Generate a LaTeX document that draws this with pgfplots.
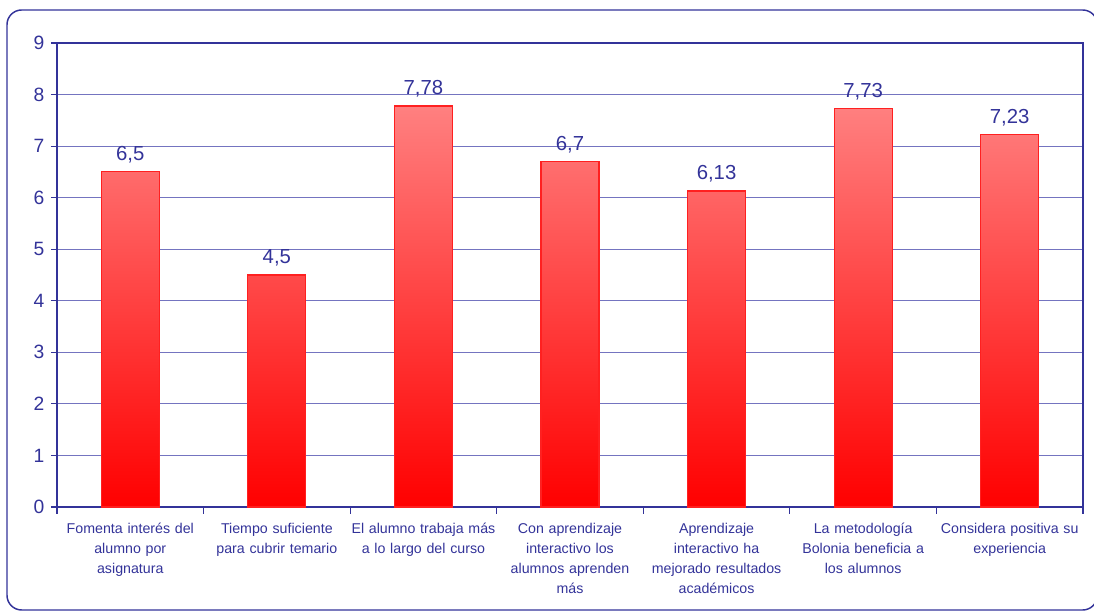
\documentclass[border=0pt]{standalone}
\usepackage{fontspec}
\setmainfont{Liberation Sans}
\usepackage{pgfplots}
\pgfplotsset{compat=1.18}
\definecolor{navy}{HTML}{333399}
\definecolor{gridc}{HTML}{7474C0}
\definecolor{barhi}{HTML}{FF8080}
\definecolor{barlo}{HTML}{FF0000}
\definecolor{baredge}{HTML}{FF2020}
\begin{document}
\begin{tikzpicture}
\useasboundingbox (0,0) rectangle (820.5bp,459bp);
\begin{scope}
\clip (0,0) rectangle (820.5bp,459bp);
\draw[navy, line width=1.1bp, rounded corners=11bp] (5.25bp,1.5bp) rectangle (823bp,451.5bp);
\end{scope}
\begin{axis}[
  at={(42.75bp,78.75bp)}, anchor=south west,
  scale only axis, width=769.5bp, height=348bp,
  xmin=-0.5, xmax=6.5, ymin=0, ymax=9,
  ytick={0,1,...,9},
  yticklabel={\fontsize{14.5}{16}\selectfont\pgfmathprintnumber{\tick}},
  xtick={0,1,...,6},
  xticklabels={
    {Fomenta interés del\\alumno por\\asignatura},
    {Tiempo suficiente\\para cubrir temario},
    {El alumno trabaja más\\a lo largo del curso},
    {Con aprendizaje\\interactivo los\\alumnos aprenden\\más},
    {Aprendizaje\\interactivo ha\\mejorado resultados\\académicos},
    {La metodología\\Bolonia beneficia a\\los alumnos},
    {Considera positiva su\\experiencia}},
  x tick label style={text width=125bp, align=center, font=\fontsize{10.7}{15}\selectfont, text=navy, anchor=north, inner sep=0pt, yshift=-7.5bp},
  y tick label style={text=navy, xshift=-1.5bp},
  /pgf/number format/assume math mode=true,
  xtick pos=bottom, ytick pos=left,
  x tick style={draw=none},
  extra x ticks={-0.5,0.5,1.5,2.5,3.5,4.5,5.5,6.5},
  extra x tick labels={},
  extra x tick style={x tick style={draw=navy, line width=0.9bp}, major tick length=5bp, tick align=outside, xtick pos=bottom},
  y tick style={draw=navy, line width=0.9bp},
  tick align=outside,
  major tick length=4.5bp,
  ymajorgrids,
  major grid style={gridc, line width=0.75bp},
  axis line style={navy, line width=1.2bp},
  ybar, bar width=43.5bp,
  nodes near coords,
  point meta=explicit symbolic,
  every node near coord/.append style={font=\fontsize{15.3}{18}\selectfont, text=navy, inner sep=0pt, yshift=6bp},
]
\addplot[ybar, draw=baredge, line width=0.9bp, top color=barhi, bottom color=barlo]
coordinates {
(0,6.5) [{6,5}]
(1,4.5) [{4,5}]
(2,7.78) [{7,78}]
(3,6.7) [{6,7}]
(4,6.13) [{6,13}]
(5,7.73) [{7,73}]
(6,7.23) [{7,23}]
};
\end{axis}
\end{tikzpicture}
\end{document}
